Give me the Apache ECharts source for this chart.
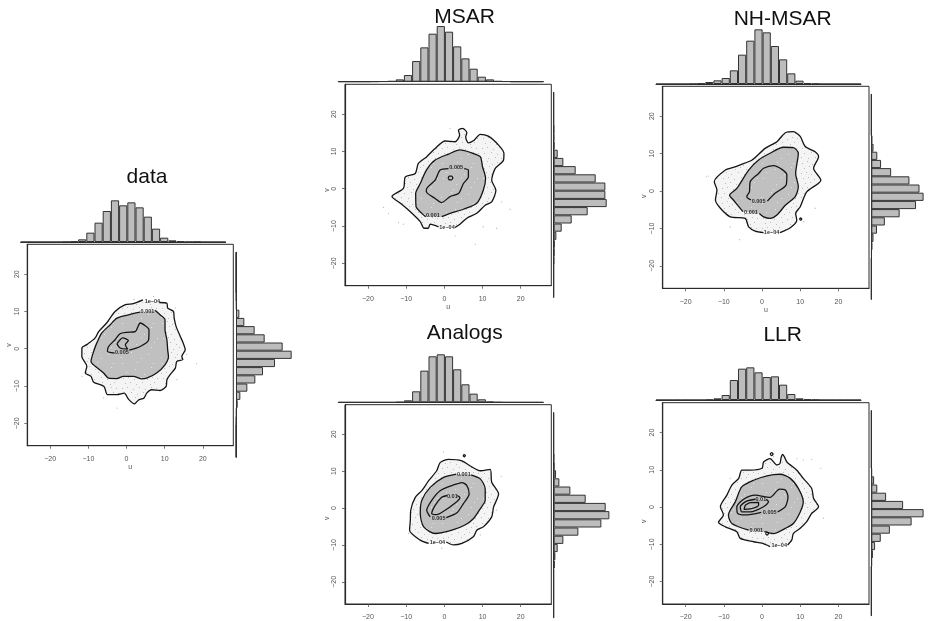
<!DOCTYPE html>
<html><head><meta charset="utf-8">
<style>html,body{margin:0;padding:0;background:#fff}#c{width:928px;height:621px}</style>
<script src="https://cdn.jsdelivr.net/npm/echarts@6/dist/echarts.min.js"></script>
</head><body><div id="c"></div>
<script>
const tickValues=[-20,-10,0,10,20];
const binLabels=[-24,-22,-20,-18,-16,-14,-12,-10,-8,-6,-4,-2,0,2,4,6,8,10,12,14,16,18,20,22,24];

const dataTop=[0,0,0,0,0,0.5,2,8,28,58,93,125,110,119,104,76,40,13,5,2,0.5,1,0,0,0];
const dataRight=[0,0,0,0,1,2,5,13,34,58,81,117,167,140,86,56,25,10,2,1,0,0,0,0,0];
const msarTop=[0,0,0,0,0.5,1,2,7,20,62,103,144,167,150,106,70,39,15,7,2,1,0,0,0,0];
const msarRight=[0,0,0,0,1,2,3,8,24,54,102,159,155,155,126,66,29,12,2,1,1,0,0,0,0];
const nhTop=[0,0,0,0,0.5,2,6,11,18,41,88,130,164,155,114,74,32,10,3,1,0,0,0,0,0];
const nhRight=[0,0,0,0,0,1,3,7,18,43,90,142,166,153,121,63,31,19,7,3,0,0,0,0,0];
const anaTop=[0,0,0,0,0,0,0,1,6,33,95,138,144,138,99,54,26,9,2,0.5,0,0,0,0,0];
const anaRight=[0,0,0,0,0,0,3,5,12,29,74,143,167,156,96,50,17,7,2,1,0,0,0,0,0];
const llrTop=[0,0,0,0,0,0,1,5,15,60,94,98,83,69,71,46,18,5,2,1,0,0,0,0,0];
const llrRight=[0,0,0,0,0,0,2,5,12,30,59,128,166,101,47,19,9,2,0,0,0,0,0,0,0];

const dataC4=[[8.6,12.4],[10.6,12.2],[10.8,10.9],[12.3,10],[12.5,8.2],[13,6],[14.1,3.3],[14.8,1.7],[15.4,-0.3],[14.5,-2.1],[14.8,-2.9],[13.2,-3.4],[12.8,-5.2],[11.4,-7],[10.6,-8.3],[10.4,-10.1],[8.8,-11.2],[6.6,-11],[5.3,-11.9],[4.6,-13.2],[3.1,-13.8],[2.1,-14.8],[0.5,-13.5],[-0.6,-11.9],[-2.5,-12.3],[-5,-12.3],[-5.9,-10.1],[-8.6,-9],[-9.3,-7.4],[-10.8,-6.5],[-10.4,-4.7],[-11.7,-2.1],[-11.7,0.2],[-10.4,1.1],[-8.2,2.9],[-7.3,4.6],[-5.2,6.9],[-3,10],[-0.3,11.8],[1.8,12.1],[4.3,13.1]];
const dataC3=[[7.5,10.3],[8.8,9.1],[10.1,7.8],[10.1,5.1],[10.6,2.4],[10.8,-0.3],[11,-2.1],[10.1,-4.3],[7.9,-6.5],[5.3,-7.9],[4,-8.1],[1.8,-7.4],[-0.8,-7.4],[-2.5,-8],[-4.7,-7.9],[-6,-6.5],[-8.2,-4.7],[-9.3,-3.4],[-8.6,-0.7],[-7.8,1.5],[-6.5,4.2],[-4.3,6.4],[-2.5,8.2],[0.5,9.1],[3.6,9.8]];
const dataC5=[[0.7,-0.4],[3.6,0.6],[5.8,2.4],[5.9,5.1],[4.6,6.4],[3.6,6.9],[2.3,4.6],[0.1,4.4],[-1.7,4],[-3,2.4],[-4.7,0.6],[-5,-0.7],[-3.1,-1.2]];
const dataCi=[[-2.5,1.3],[-1,2.9],[0.5,2.2],[-0.3,1.1],[0.3,-0.1],[-1.7,0.2],[-2.5,1.3]];

const msarC4=[[2.8,-10.4],[4.1,-9.5],[5.9,-7.9],[8.5,-6.6],[10.7,-4.4],[12.4,-3.5],[13.5,-0.4],[12.4,2.3],[13.3,5.4],[15.5,7.7],[15.6,9.5],[14.2,11.7],[11.5,14.1],[9.4,14.6],[7.8,13],[6.3,12.3],[5.6,13.9],[5.9,15],[4.8,16.2],[3.7,15.7],[4,14.4],[2.8,12.6],[0.2,12.8],[-2.4,10.8],[-4.6,8.6],[-6.8,6.8],[-7.6,4.1],[-10.2,3.2],[-10.7,0.1],[-13.7,-2.1],[-11.5,-3.9],[-9.4,-5.7],[-6.3,-8.8],[-5.3,-10.6],[-4.2,-10.6],[-3.7,-9.5],[-1.5,-10.2]];
const msarC3=[[-0.7,-7.5],[1.5,-6.6],[5,-5.5],[8.5,-3.9],[10.2,-0.4],[10.8,2.8],[10,5.9],[9.4,8.6],[7.2,9.6],[4.1,10.4],[1.1,9.3],[-2.4,7.7],[-4.7,5],[-6.3,1.4],[-7.5,-1.3],[-7.4,-4.8],[-5.9,-6.6],[-4.9,-7.5]];
const msarC5=[[5.2,5.4],[6.3,5],[6.3,3.2],[5,1.4],[3.7,-1.3],[1.5,-2.1],[-0.7,-3.7],[-2.4,-2.6],[-4.7,-0.8],[-4.7,-0.2],[-2.4,2.3],[-1.1,5],[1.1,5.4]];
const msarCi=[[1,2.9],[1.3,3.4],[1.9,3.4],[2.2,2.9],[1.9,2.4],[1.3,2.4],[1,2.9]];

const nhC4=[[4.7,-11.1],[7.4,-9.8],[9.1,-7.8],[8.8,-6],[10,-4.2],[11.7,-0.2],[15.4,2.9],[13.5,6.1],[14.8,9.2],[13.9,10.5],[11.3,11.9],[10,14.6],[8.2,15.9],[6.1,15.6],[3.9,13.2],[0.8,11.4],[-2.6,8.3],[-5.7,7],[-7.5,6.3],[-9.6,5.6],[-12.5,2.5],[-11.8,0.3],[-12.2,-2.4],[-10.9,-4.6],[-8.3,-6.9],[-4.4,-7.3],[-3.5,-9.6],[-1.8,-10.7],[0.4,-11.1]];
const nhC3=[[-0.7,-6],[0.4,-6.9],[2.1,-7.3],[3.9,-6.4],[6.1,-3.8],[8.7,-1.5],[9.5,1.2],[8.8,4.7],[9.5,10.1],[8.2,11.6],[5.6,11.7],[2.1,10.1],[-0.9,8.3],[-3.5,5.6],[-6.6,0.7],[-8.5,-1.1],[-7.5,-2.4],[-5,-5.5]];
const nhC5=[[1.4,-2.7],[3.4,-0.6],[6.3,1.6],[6.5,4.3],[5.2,5.8],[3,6.8],[0.4,6.1],[-0.9,4.7],[-3.1,2.5],[-3.3,-0.2],[-4,-1.5],[-2.9,-2.4]];
const nhCi=[[9.8,-7.5],[10.1,-7.2],[10.4,-7.5],[10.1,-7.8],[9.8,-7.5]];

const anaC4=[[0.5,-9.2],[2.4,-10],[4.6,-9.6],[7.6,-7.8],[8.5,-6],[10.2,-5.1],[12.4,-2.4],[12.9,0.3],[14.2,3.8],[12.4,7],[12,10.5],[9.4,10.1],[6.8,11.4],[4.6,12.8],[1.1,13.2],[-1.1,12.3],[-2,10.1],[-4.1,7.4],[-5.9,4.7],[-7.6,2.9],[-8.8,-0.6],[-8.9,-3.3],[-9.1,-6],[-6.3,-8.7],[-4.1,-9.6]];
const anaC3=[[7,9],[9.4,7.9],[10.7,5.2],[10.7,2.1],[9.4,-0.2],[7.6,-2.9],[5.4,-4.6],[2,-6],[-2.4,-6.9],[-5.4,-5.1],[-6.3,-1.5],[-5.9,2.1],[-3.7,5.6],[-0.2,8.3],[3.1,9.2]];
const anaC5=[[0.5,-2.6],[3.3,-1.3],[5,1.2],[6.5,3.8],[5.9,6.1],[4.6,6.9],[2,6.1],[-1.1,4.7],[-3.3,2.1],[-4.6,-0.6],[-3.7,-2.4]];
const anaC10=[[3.4,3.4],[4.1,2.8],[2.4,1],[0.2,-0.6],[-2,-1.8],[-3.3,-1.5],[-2.4,0.7],[-0.7,2.9],[0.7,3.4]];
const anaCi=[[4.9,14.2],[5.2,14.5],[5.5,14.2],[5.2,13.9],[4.9,14.2]];

const llrC4=[[6.7,-10.2],[7.8,-8.8],[8.2,-7.1],[10,-5.7],[11.7,-3.9],[13,-1.7],[14.8,0.1],[13.5,2.3],[13,5],[10.8,7.7],[9.1,9.9],[6.5,12.1],[5.9,13.4],[5.4,14.1],[5,13.3],[4.7,11.7],[3.9,11.3],[2.1,13],[0.4,12.1],[0,10.4],[-3.1,9.9],[-5.3,9.9],[-6.1,7.7],[-7.9,5.9],[-9.2,3.2],[-10.9,0.1],[-10.1,-2.1],[-11.4,-4.1],[-9.6,-5.3],[-6.6,-6.6],[-5.7,-8.4],[-2.2,-9.3],[0,-9.7],[2.1,-10.6]];
const llrC3=[[0.6,-6.6],[3,-7.1],[6.1,-5.7],[8.2,-4.4],[10,-1.3],[10.8,1.4],[9.5,5],[7.4,7.7],[4.7,8.8],[1.3,8.4],[-2.2,7.2],[-5.3,5.4],[-7,1.4],[-8.8,-2.1],[-7.9,-4.4],[-3.5,-6.2]];
const llrC5=[[4.1,-1.3],[6.1,0.1],[6.8,2.8],[6.1,4.6],[4.6,4.8],[2.1,2.6],[-1.8,3.2],[-4.8,2.1],[-6.6,0.1],[-6.4,-1.7],[-4.4,-2.1],[-0.2,-1.4]];
const llrC10=[[1.1,2.1],[1.7,1.4],[0.4,0.1],[-3.1,-1.3],[-5.3,-1.3],[-5.7,0.1],[-4,1.6],[-1.7,2.1]];
const llrCi=[[-4.4,0.5],[-3.1,1.2],[-0.9,1.25],[-0.9,0.5],[-3.1,-0.5],[-4.7,-0.6],[-4.4,0.5]];
const llrCa=[[2.1,14.2],[2.5,14.6],[2.9,14.2],[2.5,13.8],[2.1,14.2]];
const llrCb=[[0.9,-7.1],[1.3,-6.7],[1.7,-7.1],[1.3,-7.5],[0.9,-7.1]];

const dataLabels=[[6.8,12.7,'1e\u221204'],[5.5,10,'0.001'],[-1.2,-1,'0.005']];
const msarLabels=[[3.1,5.6,'0.005'],[-3,-7.3,'0.001'],[0.7,-10.4,'1e\u221204']];
const nhLabels=[[-0.9,-2.7,'0.005'],[-2.9,-5.7,'0.001'],[2.5,-11.2,'1e\u221204']];
const anaLabels=[[5.1,9.1,'0.001'],[-1.5,-2.7,'0.005'],[-1.8,-9.4,'1e\u221204'],[2.1,3.2,'0.01']];
const llrLabels=[[-0.3,2.1,'0.01'],[2,-1.4,'0.005'],[-1.5,-6.4,'0.001'],[4.5,-10.4,'1e\u221204']];

const dataStray=[[18.4,-4],[-2.5,-15.9],[12.8,10.9],[7.1,14],[-11.7,-7.4],[13.2,-8.3],[-6,-13.2],[15.8,-1.5],[2,13.2]];
const msarStray=[[8.1,-14.9],[17.2,-5.5],[-15.9,-5],[-12,-9.1],[13.7,-10.6],[2.8,-12.7],[15,-3.5],[1.5,16.2],[-14.6,-6.6],[-10.7,-9.5],[10.2,-10.2]];
const nhStray=[[-14,4],[-5.9,-13],[13.9,-4.6],[10.9,-8.2],[-8.3,-9.6],[-14.6,3.8]];
const anaStray=[[14.9,8.6],[-0.7,-10.9],[-0.2,15.2],[9.4,-7.3],[-9.4,-6.9],[13.6,-0.6]];
const llrStray=[[15.4,10.4],[13,12.8],[-8.3,7.7],[16.1,-3],[10.8,12.6],[3,13.5],[9.1,13]];

const specks=[[2,3],[7,1],[12,4],[17,2],[23,5],[28,1],[33,3],[4,8],[9,6],[15,9],[20,7],[26,9],[31,7],[36,6],[1,13],[6,12],[11,14],[18,12],[24,14],[29,12],[35,13],[3,18],[8,17],[14,19],[21,17],[27,19],[32,17],[37,18],[5,23],[10,22],[16,24],[22,22],[30,24],[34,22],[2,28],[7,27],[13,29],[19,27],[25,29],[31,27],[36,28],[4,33],[11,32],[17,34],[23,32],[28,34],[33,32],[38,33],[1,37],[8,38],[15,37],[21,38],[26,37],[35,38]];
function tile(bg,dot,step){
  const c=document.createElement('canvas');c.width=c.height=40;
  const g=c.getContext('2d');
  if(bg){g.fillStyle=bg;g.fillRect(0,0,40,40);}
  g.fillStyle=dot;
  specks.forEach((s,i)=>{if(i%step===0)g.fillRect(s[0],s[1],1,1);});
  return {image:c,repeat:'repeat'};
}
const outerFill=tile('#f4f4f4','#bcbcbc',1);
const innerFill=tile('#c0c0c0','#e4e4e4',3);

const panels=[
 {title:'data',tx:147,ty:167,box:[27.3,244.3,206,201.4],top:[20.7,242],right:[236,252.3],topH:dataTop,rightH:dataRight,c4:dataC4,c3:dataC3,others:[dataC5,dataCi],labels:dataLabels,stray:dataStray,names:true,vPad:0},
 {title:'MSAR',tx:464.7,ty:7,box:[345,84.3,206.3,201.4],top:[338.3,81.7],right:[553.7,92.3],topH:msarTop,rightH:msarRight,c4:msarC4,c3:msarC3,others:[msarC5,msarCi],labels:msarLabels,stray:msarStray,names:true,vPad:10},
 {title:'NH-MSAR',tx:782.7,ty:9,box:[662.7,86.3,206.3,202],top:[656,84],right:[871.3,94.3],topH:nhTop,rightH:nhRight,c4:nhC4,c3:nhC3,others:[nhC5,nhCi],labels:nhLabels,stray:nhStray,names:true,vPad:18},
 {title:'Analogs',tx:464.7,ty:323,box:[345,404.7,206.3,202],top:[338.3,402.3],right:[553.7,412.7],topH:anaTop,rightH:anaRight,c4:anaC4,c3:anaC3,others:[anaC5,anaC10,anaCi],labels:anaLabels,stray:anaStray,names:false,vPad:28},
 {title:'LLR',tx:782.7,ty:325,box:[662.7,402.7,206.3,201.6],top:[656,400],right:[871.3,410.7],topH:llrTop,rightH:llrRight,c4:llrC4,c3:llrC3,others:[llrC5,llrC10,llrCi,llrCa,llrCb],labels:llrLabels,stray:llrStray,names:false,vPad:36}
];
const INK='#2a2a2a';
const opt={animation:false,backgroundColor:'#fff',title:[],grid:[],xAxis:[],yAxis:[],series:[]};
const fmt=v=>String(v).replace('-','\u2212');
const tickFont={color:'#555',fontSize:7,fontFamily:'Liberation Sans'};
function fillSeries(idx,pts,fill,z){
  return {type:'custom',xAxisIndex:idx,yAxisIndex:idx,coordinateSystem:'cartesian2d',silent:true,z,data:[[0,0]],
    renderItem:(p,api)=>({type:'polygon',shape:{points:pts.map(q=>api.coord(q))},style:{fill:fill,stroke:null}})};
}
function lineSeries(idx,pts){
  return {type:'line',xAxisIndex:idx,yAxisIndex:idx,data:pts,showSymbol:false,symbol:'none',smooth:0.25,silent:true,z:6,
    lineStyle:{color:'#151515',width:1.3}};
}
panels.forEach(p=>{
  const m=opt.grid.length;
  opt.title.push({text:p.title,left:p.tx,top:p.ty,padding:0,textAlign:'center',textStyle:{fontSize:21,fontWeight:'normal',color:'#111',fontFamily:'Liberation Sans'}});
  opt.grid.push({left:p.box[0],top:p.box[1],width:p.box[2],height:p.box[3],show:true,borderColor:INK,borderWidth:1,backgroundColor:'#fff'});
  const axBase={type:'value',min:-26,max:28,splitLine:{show:false},
    axisLine:{show:true,onZero:false,lineStyle:{color:INK,width:1.2}},
    axisTick:{show:true,length:3,customValues:tickValues,lineStyle:{color:'#555',width:0.8}}};
  opt.xAxis.push(Object.assign({},axBase,{gridIndex:m,
    axisLabel:{customValues:tickValues,formatter:fmt,margin:10,...tickFont},
    name:p.names?'u':'',nameLocation:'middle',nameGap:17,nameTextStyle:{color:'#555',fontSize:7,fontFamily:'Liberation Sans'}}));
  opt.yAxis.push(Object.assign({},axBase,{gridIndex:m,
    axisLabel:{customValues:tickValues,formatter:fmt,rotate:90,margin:7,...tickFont},
    name:'v',nameLocation:'middle',nameGap:14,nameTextStyle:{color:'#555',fontSize:7,fontFamily:'Liberation Sans',padding:[0,p.vPad,0,0]}}));
  const t=opt.grid.length;
  opt.grid.push({left:p.top[0],top:p.top[1]-60,width:205,height:60});
  opt.xAxis.push({gridIndex:t,type:'category',data:binLabels,axisLine:{show:true,lineStyle:{color:INK,width:1}},axisTick:{show:false},axisLabel:{show:false},splitLine:{show:false}});
  opt.yAxis.push({gridIndex:t,type:'value',min:0,max:180,show:false,splitLine:{show:false}});
  const r=opt.grid.length;
  opt.grid.push({left:p.right[0],top:p.right[1],width:60,height:205});
  opt.xAxis.push({gridIndex:r,type:'value',min:0,max:180,show:false,splitLine:{show:false}});
  opt.yAxis.push({gridIndex:r,type:'category',data:binLabels,axisLine:{show:true,lineStyle:{color:INK,width:1}},axisTick:{show:false},axisLabel:{show:false},splitLine:{show:false}});
  const barStyle={color:'#bdbdbd',borderColor:'#333',borderWidth:1};
  opt.series.push({type:'bar',xAxisIndex:t,yAxisIndex:t,data:p.topH,barWidth:'100%',barCategoryGap:'0%',barGap:'0%',itemStyle:barStyle,silent:true});
  opt.series.push({type:'bar',xAxisIndex:r,yAxisIndex:r,data:p.rightH,barWidth:'100%',barCategoryGap:'0%',barGap:'0%',itemStyle:barStyle,silent:true});
  opt.series.push(fillSeries(m,p.c4,outerFill,2));
  opt.series.push(fillSeries(m,p.c3,innerFill,3));
  opt.series.push({type:'scatter',xAxisIndex:m,yAxisIndex:m,data:p.stray,symbolSize:1.3,silent:true,z:4,itemStyle:{color:'#aaa'}});
  [p.c4,p.c3].concat(p.others).forEach(c=>opt.series.push(lineSeries(m,c)));
  opt.series.push({type:'scatter',xAxisIndex:m,yAxisIndex:m,data:p.labels,symbolSize:0,silent:true,z:7,
    label:{show:true,position:'inside',formatter:d=>d.value[2],color:'#000',fontSize:5.5,fontWeight:'bold',fontFamily:'Liberation Sans'}});
});
echarts.init(document.getElementById('c'),null,{renderer:'canvas'}).setOption(opt);
</script></body></html>
